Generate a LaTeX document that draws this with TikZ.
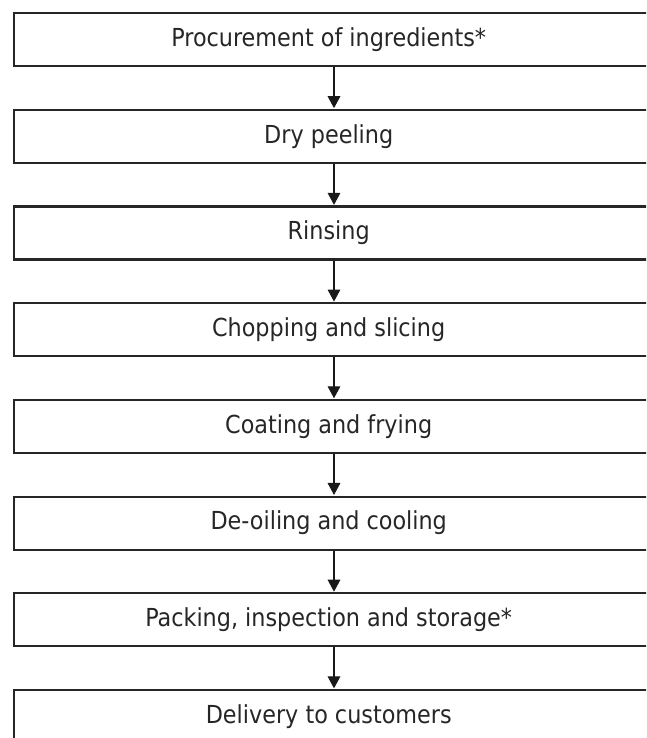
\documentclass[tikz,border=0pt]{standalone}
\usepackage{fontspec}
\setmainfont{DejaVu Sans Condensed}
\usetikzlibrary{arrows.meta}
\begin{document}
\begin{tikzpicture}[x=0.75pt,y=-0.75pt,
  stepbox/.style={draw=black!85,line width=1.6pt,minimum width=648*0.75pt,
    minimum height=53*0.75pt,anchor=north west,inner sep=0pt,
    font=\fontsize{18.6}{22}\selectfont,text=black!85},
  flow/.style={draw=black!90,line width=0.8pt,
    -{Triangle[length=9pt,width=9.5pt]},shorten >=0.4pt}]
\useasboundingbox (0,0) rectangle (646,738);
\clip (0,0) rectangle (646,738);
\node[stepbox] (s1) at (13,12.0)  {\hspace*{-14pt}\raisebox{-3pt}{Procurement of ingredients*}};
\node[stepbox] (s2) at (13,108.7) {\hspace*{-14pt}\raisebox{-3pt}{Dry peeling}};
\node[stepbox] (s3) at (13,205.4) {\hspace*{-14pt}\raisebox{-3pt}{Rinsing}};
\node[stepbox] (s4) at (13,302.1) {\hspace*{-14pt}\raisebox{-3pt}{Chopping and slicing}};
\node[stepbox] (s5) at (13,398.8) {\hspace*{-14pt}\raisebox{-3pt}{Coating and frying}};
\node[stepbox] (s6) at (13,495.5) {\hspace*{-14pt}\raisebox{-3pt}{De-oiling and cooling}};
\node[stepbox] (s7) at (13,592.2) {\hspace*{-14pt}\raisebox{-3pt}{Packing, inspection and storage*}};
\node[stepbox] (s8) at (13,688.9) {\hspace*{-14pt}\raisebox{-3pt}{Delivery to customers}};
\foreach \a/\b in {s1/s2,s2/s3,s3/s4,s4/s5,s5/s6,s6/s7,s7/s8}
  \draw[flow] (\a.south -| 334,0) -- (\b.north -| 334,0);
\end{tikzpicture}
\end{document}
